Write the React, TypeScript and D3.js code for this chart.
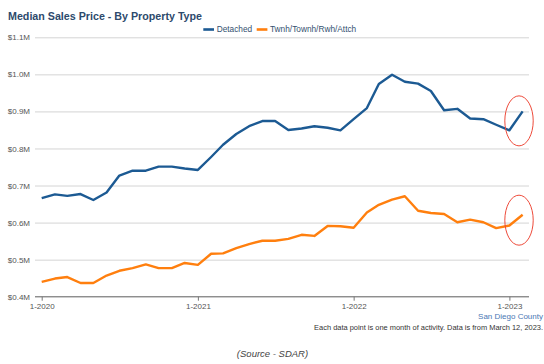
import { useRef, useEffect } from 'react';
import * as d3 from 'd3';

// monthly values, Jan 2020 .. Feb 2023 (in $M)
const months = d3.range(38).map((i) => new Date(2020, i, 1));
const detached = [
  0.666, 0.676, 0.672, 0.677, 0.661, 0.681, 0.727, 0.74, 0.74, 0.751, 0.751, 0.746,
  0.742, 0.777, 0.81, 0.839, 0.86, 0.874, 0.874, 0.85, 0.854, 0.86, 0.856, 0.849,
  0.879, 0.909, 0.974, 0.999, 0.98, 0.975, 0.955, 0.903, 0.907, 0.881, 0.879, 0.864,
  0.849, 0.9,
];
const attached = [
  0.44, 0.449, 0.453, 0.437, 0.437, 0.457, 0.47, 0.477, 0.487, 0.477, 0.477, 0.491,
  0.486, 0.516, 0.517, 0.531, 0.542, 0.551, 0.551, 0.556, 0.567, 0.564, 0.591, 0.59,
  0.586, 0.627, 0.648, 0.662, 0.671, 0.632, 0.626, 0.623, 0.601, 0.608, 0.601, 0.585,
  0.592, 0.621,
];
const yTicks = [0.4, 0.5, 0.6, 0.7, 0.8, 0.9, 1.0, 1.1];
const xTicks = [new Date(2020, 0, 1), new Date(2021, 0, 1), new Date(2022, 0, 1), new Date(2023, 0, 1)];
const seriesNames = ['Detached', 'Twnh/Townh/Rwh/Attch'];
const colors = ['#1c5a93', '#ff7f0e'];

const width = 544;
const height = 364;
const marginLeft = 35;
const marginRight = 15;
const marginTop = 37.3;
const marginBottom = 67.3;
const font = "'Liberation Sans', Arial, sans-serif";

export default function App() {
  const gx = useRef<SVGGElement>(null);
  const gy = useRef<SVGGElement>(null);

  const x = d3
    .scaleTime()
    .domain([new Date(2020, 0, 1), new Date(2023, 0, 1)])
    .range([41.7, 509.4]);
  const y = d3.scaleLinear([0.4, 1.1], [height - marginBottom, marginTop]);

  const line = d3
    .line<number>()
    .x((_, i) => x(months[i]))
    .y((d) => y(d));

  useEffect(() => {
    if (gy.current) {
      const g = d3.select(gy.current);
      g.selectAll('*').remove();
      g.call(
        d3
          .axisLeft(y)
          .tickValues(yTicks)
          .tickSize(-(width - marginLeft - marginRight))
          .tickPadding(5)
          .tickFormat((d) => `$${d3.format('.1f')(d as number)}M`),
      );
      g.select('.domain').remove();
      g.selectAll('.tick line').attr('stroke', '#d4d4d4');
      g.selectAll('.tick text')
        .attr('fill', '#555')
        .style('font-size', '8px')
        .style('font-family', font);
    }
    if (gx.current) {
      const g = d3.select(gx.current);
      g.selectAll('*').remove();
      g.call(
        d3
          .axisBottom(x)
          .tickValues(xTicks)
          .tickSize(4)
          .tickPadding(3)
          .tickFormat((d) => d3.timeFormat('%-m-%Y')(d as Date)),
      );
      g.select('.domain')
        .attr('d', `M${marginLeft},0H${width - marginRight}`)
        .attr('stroke', '#777');
      g.selectAll('.tick line').attr('stroke', '#777');
      g.selectAll('.tick text')
        .attr('fill', '#555')
        .style('font-size', '8px')
        .style('font-family', font);
    }
  }, []);

  const n = months.length;
  const ring = (vals: number[]) => ({
    cx: (x(months[n - 1]) + x(months[n - 2])) / 2 + 3,
    cy: (y(vals[n - 1]) + y(vals[n - 2])) / 2,
  });

  return (
    <svg
      width={width}
      height={height}
      style={{ position: 'absolute', left: 0, top: 0, background: '#fff' }}>
      <text x={8} y={20.3} fill='#2d4a6c' fontFamily={font} fontWeight='bold' fontSize={10.7}>
        Median Sales Price - By Property Type
      </text>
      <g fontFamily={font} fontSize={8.3} fill='#34506f'>
        <rect x={203.3} y={28.2} width={10.7} height={2.6} fill={colors[0]} />
        <text x={216.7} y={32}>{seriesNames[0]}</text>
        <rect x={256.7} y={28.2} width={10.7} height={2.6} fill={colors[1]} />
        <text x={270} y={32}>{seriesNames[1]}</text>
      </g>
      <g ref={gy} transform={`translate(${marginLeft}, 0)`} />
      <g ref={gx} transform={`translate(0, ${height - marginBottom})`} />
      <path d={line(attached) ?? ''} fill='none' stroke={colors[1]} strokeWidth={2.4} strokeLinejoin='round' />
      <path d={line(detached) ?? ''} fill='none' stroke={colors[0]} strokeWidth={2.4} strokeLinejoin='round' />
      {[detached, attached].map((vals, i) => {
        const c = ring(vals);
        return <ellipse key={i} cx={c.cx} cy={c.cy} rx={14.2} ry={25} fill='none' stroke='#ee4b3b' strokeWidth={1} />;
      })}
      <text x={543} y={319} textAnchor='end' fill='#4a78b4' fontFamily={font} fontSize={8}>
        San Diego County
      </text>
      <text x={543} y={329.5} textAnchor='end' fill='#333' fontFamily={font} fontSize={7.45}>
        Each data point is one month of activity. Data is from March 12, 2023.
      </text>
      <text x={272.5} y={357} textAnchor='middle' fill='#444' fontFamily={font} fontSize={9.5} fontStyle='italic'>
        (Source - SDAR)
      </text>
    </svg>
  );
}
